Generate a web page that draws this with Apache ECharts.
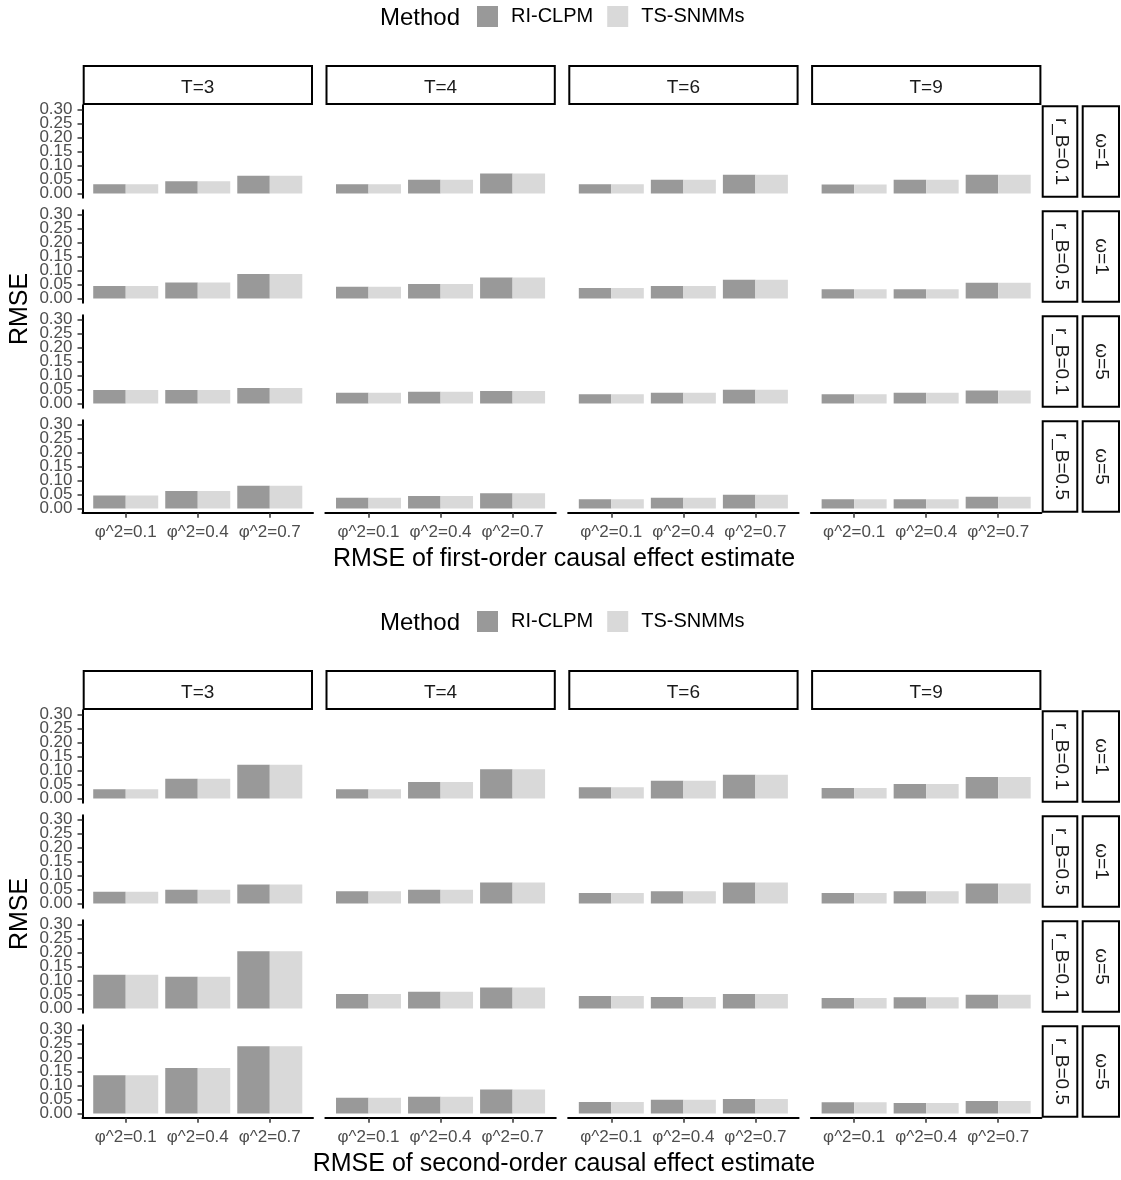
<!DOCTYPE html>
<html><head><meta charset="utf-8">
<script src="https://cdn.jsdelivr.net/npm/echarts@6/dist/echarts.min.js"></script>
<style>html,body{margin:0;padding:0;background:#fff}#c{width:1121px;height:1180px}</style>
</head><body><div id="c"></div>
<script>
// ---------- data ----------
const categories = ['φ^2=0.1', 'φ^2=0.4', 'φ^2=0.7'];
const columnLabels = ['T=3', 'T=4', 'T=6', 'T=9'];
const rBLabels = ['r_B=0.1', 'r_B=0.5', 'r_B=0.1', 'r_B=0.5'];
const omegaLabels = ['ω=1', 'ω=1', 'ω=5', 'ω=5'];
const yTicks = [0, 0.05, 0.10, 0.15, 0.20, 0.25, 0.30];
const methods = ['RI-CLPM', 'TS-SNMMs'];
const axisTitles = ['RMSE of first-order causal effect estimate', 'RMSE of second-order causal effect estimate'];
const yTitle = 'RMSE';
const legendTitle = 'Method';

// each row: [T=3, T=4, T=6, T=9], each cell: [φ^2=0.1, φ^2=0.4, φ^2=0.7]
// first-order, RI-CLPM
const firstRI_row1 = [[0.033, 0.044, 0.063], [0.033, 0.049, 0.071], [0.033, 0.049, 0.067], [0.032, 0.049, 0.067]];
const firstRI_row2 = [[0.045, 0.057, 0.087], [0.042, 0.052, 0.075], [0.037, 0.045, 0.067], [0.033, 0.033, 0.056]];
const firstRI_row3 = [[0.048, 0.048, 0.055], [0.038, 0.042, 0.045], [0.033, 0.038, 0.049], [0.033, 0.038, 0.046]];
const firstRI_row4 = [[0.046, 0.062, 0.081], [0.038, 0.045, 0.054], [0.033, 0.038, 0.049], [0.033, 0.033, 0.042]];
// first-order, TS-SNMMs
const firstTS_row1 = [[0.033, 0.044, 0.063], [0.033, 0.049, 0.071], [0.033, 0.049, 0.067], [0.032, 0.049, 0.067]];
const firstTS_row2 = [[0.045, 0.057, 0.087], [0.042, 0.052, 0.075], [0.037, 0.045, 0.067], [0.033, 0.033, 0.056]];
const firstTS_row3 = [[0.048, 0.048, 0.055], [0.038, 0.042, 0.045], [0.033, 0.038, 0.049], [0.033, 0.038, 0.046]];
const firstTS_row4 = [[0.046, 0.062, 0.081], [0.038, 0.045, 0.054], [0.033, 0.038, 0.049], [0.033, 0.033, 0.042]];
// second-order, RI-CLPM
const secondRI_row1 = [[0.033, 0.070, 0.120], [0.033, 0.059, 0.104], [0.040, 0.063, 0.085], [0.037, 0.052, 0.077]];
const secondRI_row2 = [[0.042, 0.049, 0.068], [0.044, 0.049, 0.075], [0.037, 0.044, 0.075], [0.037, 0.044, 0.071]];
const secondRI_row3 = [[0.120, 0.113, 0.204], [0.052, 0.060, 0.075], [0.045, 0.041, 0.052], [0.037, 0.040, 0.049]];
const secondRI_row4 = [[0.136, 0.162, 0.240], [0.056, 0.060, 0.086], [0.041, 0.049, 0.052], [0.040, 0.037, 0.045]];
// second-order, TS-SNMMs
const secondTS_row1 = [[0.033, 0.070, 0.120], [0.033, 0.059, 0.104], [0.040, 0.063, 0.085], [0.037, 0.052, 0.077]];
const secondTS_row2 = [[0.042, 0.049, 0.068], [0.044, 0.049, 0.075], [0.037, 0.044, 0.075], [0.037, 0.044, 0.071]];
const secondTS_row3 = [[0.120, 0.113, 0.204], [0.052, 0.060, 0.075], [0.045, 0.041, 0.052], [0.037, 0.040, 0.049]];
const secondTS_row4 = [[0.136, 0.162, 0.240], [0.056, 0.060, 0.086], [0.041, 0.049, 0.052], [0.040, 0.037, 0.045]];

// ---------- layout / style ----------
const FONT = "'Liberation Sans', Arial, sans-serif";
const COLORS = ['#999999', '#d9d9d9'];
const PANEL_W = 230.5, PANEL_H = 92.5;
const CHART_OFF = [0, 605];
const colLeft = k => 82.5 + k * 242.8;
const rowTop = (c, r) => 105.2 + CHART_OFF[c] + r * 105;
const Y_MIN = -0.015, Y_MAX = 0.315;

const tables = [
  [[firstRI_row1, firstRI_row2, firstRI_row3, firstRI_row4], [firstTS_row1, firstTS_row2, firstTS_row3, firstTS_row4]],
  [[secondRI_row1, secondRI_row2, secondRI_row3, secondRI_row4], [secondTS_row1, secondTS_row2, secondTS_row3, secondTS_row4]]
];
// split ticks into two label sets so ECharts never drops overlapping neighbours
const yTicksA = yTicks.filter((v, i) => i % 2 === 0);
const yTicksB = yTicks.filter((v, i) => i % 2 === 1);

const grid = [], xAxis = [], yAxis = [], series = [], graphic = [], legend = [];
const extraY = [];
const yLabelStyle = {fontSize: 17, color: '#4d4d4d', margin: 10, fontFamily: FONT,
  formatter: v => v.toFixed(2), showMinLabel: true, showMaxLabel: true, hideOverlap: false};
const tickStyle = {length: 5, lineStyle: {color: '#333', width: 1.5}};
let idx = 0;
for (let c = 0; c < 2; c++) {
  for (let r = 0; r < 4; r++) {
    for (let k = 0; k < 4; k++) {
      const isBottom = r === 3, isLeft = k === 0;
      grid.push({left: colLeft(k), top: rowTop(c, r), width: PANEL_W, height: PANEL_H, containLabel: false, outerBoundsMode: 'none'});
      xAxis.push({
        type: 'value', gridIndex: idx, min: 0.4, max: 3.6,
        splitLine: {show: false},
        axisLine: {show: isBottom, onZero: false, lineStyle: {color: '#000', width: 2}},
        axisTick: Object.assign({show: isBottom, customValues: [1, 2, 3]}, tickStyle),
        axisLabel: {show: isBottom, customValues: [1, 2, 3], formatter: v => categories[Math.round(v) - 1],
          fontSize: 17, color: '#4d4d4d', margin: 11, fontFamily: FONT}
      });
      yAxis.push({
        type: 'value', gridIndex: idx, min: Y_MIN, max: Y_MAX, position: 'left', offset: 0,
        splitLine: {show: false},
        axisLine: {show: isLeft, onZero: false, lineStyle: {color: '#000', width: 2}},
        axisTick: Object.assign({show: isLeft, customValues: yTicksA}, tickStyle),
        axisLabel: Object.assign({show: isLeft, customValues: yTicksA}, yLabelStyle)
      });
      if (isLeft) {
        extraY.push({
          type: 'value', gridIndex: idx, min: Y_MIN, max: Y_MAX, position: 'left', offset: 0,
          splitLine: {show: false},
          axisLine: {show: false, onZero: false},
          axisTick: Object.assign({show: true, customValues: yTicksB}, tickStyle),
          axisLabel: Object.assign({show: true, customValues: yTicksB}, yLabelStyle)
        });
      }
      for (let m = 0; m < 2; m++) {
        const vals = tables[c][m][r][k];
        series.push({
          type: 'bar', name: methods[m], xAxisIndex: idx, yAxisIndex: idx,
          data: vals.map((v, i) => [i + 1, v]),
          barWidth: 32.5, barGap: '0%', itemStyle: {color: COLORS[m]}, silent: true
        });
      }
      idx++;
    }
    // right strips
    const top = rowTop(c, r);
    graphic.push({type: 'rect', shape: {x: 1042.7, y: top + 1, width: 34.6, height: PANEL_H - 2},
      style: {fill: '#fff', stroke: '#000', lineWidth: 2}});
    graphic.push({type: 'rect', shape: {x: 1082.7, y: top + 1, width: 36.3, height: PANEL_H - 2},
      style: {fill: '#fff', stroke: '#000', lineWidth: 2}});
    graphic.push({type: 'text', x: 1061, y: top + PANEL_H / 2, rotation: -Math.PI / 2,
      style: {text: rBLabels[r], font: '19px ' + FONT, fill: '#1a1a1a', align: 'center', verticalAlign: 'middle'}});
    graphic.push({type: 'text', x: 1101.5, y: top + PANEL_H / 2, rotation: -Math.PI / 2,
      style: {text: omegaLabels[r], font: '19px ' + FONT, fill: '#1a1a1a', align: 'center', verticalAlign: 'middle'}});
  }
  // top strips
  for (let k = 0; k < 4; k++) {
    graphic.push({type: 'rect', shape: {x: colLeft(k) + 1.2, y: 66 + CHART_OFF[c], width: PANEL_W - 2.2, height: 38},
      style: {fill: '#fff', stroke: '#000', lineWidth: 2}});
    graphic.push({type: 'text', x: colLeft(k) + PANEL_W / 2, y: 87.5 + CHART_OFF[c],
      style: {text: columnLabels[k], font: '19px ' + FONT, fill: '#1a1a1a', align: 'center', verticalAlign: 'middle'}});
  }
  // titles
  graphic.push({type: 'text', x: 564, y: 559 + CHART_OFF[c],
    style: {text: axisTitles[c], font: '25px ' + FONT, fill: '#000', align: 'center', verticalAlign: 'middle'}});
  graphic.push({type: 'text', x: 20, y: 309 + CHART_OFF[c], rotation: Math.PI / 2,
    style: {text: yTitle, font: '25px ' + FONT, fill: '#000', align: 'center', verticalAlign: 'middle'}});
  graphic.push({type: 'text', x: 380, y: 18 + CHART_OFF[c],
    style: {text: legendTitle, font: '24px ' + FONT, fill: '#000', align: 'left', verticalAlign: 'middle'}});
  legend.push({
    left: 477, top: 6 + CHART_OFF[c], orient: 'horizontal', itemWidth: 21, itemHeight: 21, itemGap: 14,
    icon: 'rect', padding: 0, selectedMode: false,
    textStyle: {fontSize: 20, color: '#000', fontFamily: FONT, padding: [0, 0, 0, 8]},
    data: methods
  });
}

const chart = echarts.init(document.getElementById('c'), null, {renderer: 'canvas'});
chart.setOption({
  animation: false,
  backgroundColor: '#fff',
  grid, xAxis, yAxis: yAxis.concat(extraY), series, legend, graphic
});
</script></body></html>
